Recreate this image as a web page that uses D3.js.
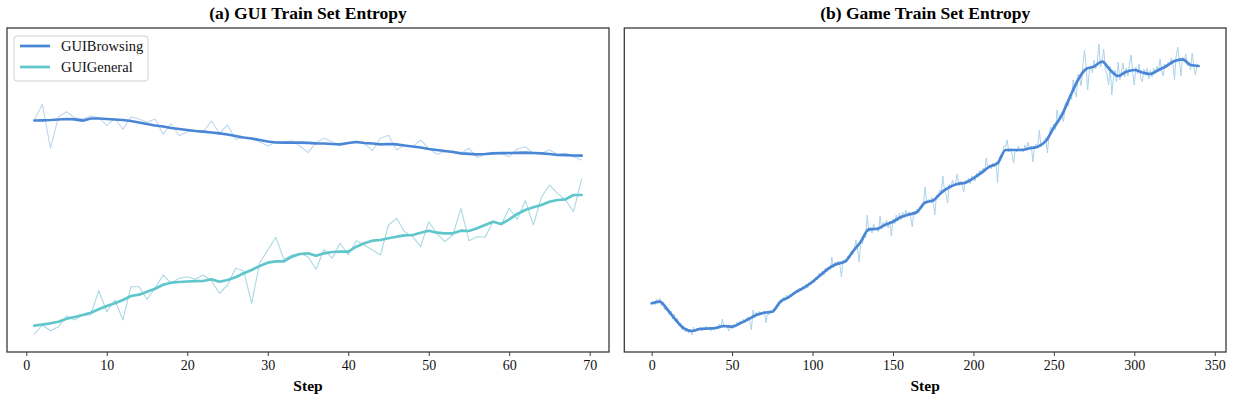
<!DOCTYPE html>
<html>
<head>
<meta charset="utf-8">
<script src="https://cdn.jsdelivr.net/npm/d3@7"></script>
<style>
  body { margin: 0; background: #fff; }
  svg { display: block; }
</style>
</head>
<body>
<svg id="chart" width="1233" height="397"></svg>
<script>
// ---- data (entropy; y axis carries no labels) ----
// (a) GUI train set, steps 1..69
const browsingRaw = [2.32,2.477,2.037,2.353,2.403,2.343,2.33,2.363,2.343,2.263,
  2.337,2.227,2.35,2.33,2.297,2.33,2.177,2.283,2.163,2.203,
  2.21,2.203,2.31,2.187,2.27,2.127,2.147,2.127,2.103,2.06,
  2.103,2.103,2.113,2.06,1.993,2.093,2.137,2.103,2.07,2.093,
  2.103,2.087,2.013,2.137,2.167,2.02,2.07,2.053,2.12,2.037,
  1.977,2.003,2.01,1.987,2.037,1.943,1.977,1.997,1.987,1.953,
  2.03,2.053,1.987,1.987,2.02,1.977,1.987,1.953,1.92];
const browsingSmooth = [2.315,2.317,2.32,2.325,2.33,2.327,2.313,2.335,2.335,2.33,
  2.325,2.32,2.31,2.295,2.28,2.265,2.255,2.24,2.23,2.22,
  2.21,2.203,2.195,2.187,2.175,2.16,2.145,2.135,2.12,2.105,
  2.095,2.093,2.093,2.093,2.091,2.087,2.085,2.08,2.077,2.09,
  2.10,2.09,2.085,2.077,2.08,2.077,2.065,2.055,2.045,2.03,
  2.02,2.01,2.00,1.987,1.982,1.977,1.98,1.987,1.988,1.99,
  1.992,1.993,1.99,1.987,1.98,1.97,1.968,1.965,1.963];
const generalRaw = [0.18,0.27,0.213,0.253,0.36,0.32,0.37,0.37,0.613,0.403,
  0.52,0.32,0.653,0.653,0.527,0.637,0.77,0.687,0.737,0.753,
  0.727,0.77,0.713,0.587,0.67,0.837,0.813,0.487,0.893,1.02,
  1.147,0.927,0.97,0.987,0.953,0.827,1.027,0.937,1.087,0.97,
  1.113,1.07,1.02,0.97,1.27,1.337,1.203,1.153,1.053,1.303,
  1.187,1.103,1.17,1.437,1.113,1.153,1.147,1.303,1.27,1.437,
  1.327,1.513,1.27,1.547,1.67,1.587,1.52,1.403,1.73];
const generalSmooth = [0.263,0.275,0.287,0.303,0.333,0.35,0.37,0.393,0.427,0.46,
  0.487,0.52,0.56,0.573,0.603,0.633,0.673,0.693,0.70,0.705,
  0.708,0.71,0.727,0.703,0.72,0.747,0.787,0.82,0.86,0.893,
  0.907,0.907,0.953,0.98,0.987,0.963,0.987,1.00,1.003,1.003,
  1.053,1.087,1.113,1.12,1.137,1.153,1.167,1.17,1.193,1.213,
  1.193,1.187,1.187,1.213,1.21,1.237,1.27,1.303,1.28,1.327,
  1.38,1.42,1.447,1.47,1.503,1.52,1.527,1.57,1.57];

// (b) Game train set, steps 0..340
const gameRaw = [0.48,0.50,0.47,0.53,0.49,0.54,0.46,0.50,0.42,0.45,
  0.44,0.37,0.41,0.33,0.38,0.30,0.34,0.26,0.29,0.22,
  0.26,0.20,0.24,0.19,0.23,0.17,0.25,0.20,0.24,0.21,
  0.25,0.21,0.24,0.22,0.26,0.22,0.24,0.21,0.23,0.22,
  0.26,0.24,0.28,0.25,0.33,0.24,0.27,0.25,0.21,0.26,
  0.23,0.28,0.25,0.30,0.27,0.31,0.28,0.33,0.29,0.34,
  0.35,0.31,0.22,0.42,0.34,0.40,0.36,0.41,0.37,0.40,
  0.41,0.29,0.40,0.37,0.42,0.39,0.44,0.42,0.47,0.46,
  0.52,0.49,0.55,0.51,0.57,0.53,0.58,0.55,0.60,0.57,
  0.62,0.59,0.64,0.61,0.66,0.63,0.68,0.64,0.70,0.67,
  0.72,0.69,0.75,0.72,0.79,0.75,0.81,0.77,0.84,0.80,
  0.85,0.82,0.95,0.84,0.90,0.86,0.91,0.87,0.75,0.92,
  0.92,0.89,0.96,0.93,1.00,0.97,1.04,1.12,1.02,0.90,
  1.12,1.08,1.18,1.14,1.37,1.20,1.25,1.19,1.28,1.22,
  1.25,1.20,1.36,1.23,1.30,1.26,1.32,1.24,1.31,1.16,
  1.33,1.28,1.37,1.31,1.39,1.32,1.40,1.34,1.42,1.35,
  1.40,1.35,1.25,1.41,1.38,1.43,1.40,1.46,1.44,1.50,
  1.65,1.48,1.53,1.50,1.55,1.49,1.37,1.57,1.55,1.62,
  1.60,1.76,1.61,1.58,1.49,1.68,1.64,1.72,1.66,1.70,
  1.78,1.66,1.71,1.67,1.60,1.72,1.69,1.74,1.68,1.76,
  1.75,1.71,1.79,1.75,1.82,1.77,1.84,1.80,1.94,1.83,
  1.86,1.83,1.89,1.85,1.90,1.69,1.93,1.97,1.95,2.06,
  2.05,2.12,2.00,2.04,1.98,1.89,2.03,2.00,2.06,2.01,
  2.04,2.00,2.07,2.02,2.10,2.03,2.06,1.90,2.05,2.08,
  2.07,2.22,2.05,2.10,2.08,2.14,1.99,2.17,2.25,2.20,
  2.28,2.22,2.42,2.30,2.38,2.36,2.30,2.48,2.50,2.46,
  2.58,2.52,2.72,2.60,2.55,2.78,2.74,2.66,2.86,3.02,
  2.88,2.62,2.80,2.86,2.79,2.92,2.83,2.90,3.08,2.85,
  2.92,3.03,2.82,2.78,2.67,2.86,2.57,2.74,2.82,2.70,
  2.90,2.72,2.80,2.89,2.75,2.84,2.76,2.88,2.97,2.80,
  2.67,2.85,2.78,2.88,2.74,2.70,2.83,2.77,2.84,2.73,
  2.82,2.75,2.84,2.79,2.86,2.80,2.93,2.81,2.76,2.88,
  2.84,2.90,2.87,2.94,2.88,2.72,2.96,3.05,2.92,2.76,
  2.95,2.90,2.98,2.86,2.90,2.82,2.99,2.85,2.77,2.88,2.85];
// smoothed curve, every 5 steps (0, 5, ..., 340)
const gameSmooth = [0.487,0.503,0.42,0.32,0.237,0.21,0.23,0.235,0.24,0.26,
  0.253,0.287,0.327,0.37,0.393,0.403,0.503,0.547,0.603,0.647,
  0.703,0.77,0.837,0.88,0.903,1.003,1.103,1.227,1.23,1.27,
  1.303,1.35,1.375,1.40,1.495,1.515,1.593,1.647,1.68,1.693,
  1.737,1.793,1.853,1.887,2.02,2.02,2.02,2.037,2.053,2.11,
  2.245,2.37,2.55,2.72,2.83,2.855,2.903,2.82,2.76,2.803,
  2.82,2.795,2.78,2.82,2.86,2.91,2.927,2.87,2.86];

const guiTicks = [0, 10, 20, 30, 40, 50, 60, 70];
const gameTicks = [0, 50, 100, 150, 200, 250, 300, 350];

// ---- style ----
const serif = '"Liberation Serif", "Times New Roman", Times, serif';
const blue = "#4a86d6";
const teal = "#5fc6cc";
const rawBlue = "#bfd7ed";
const rawTeal = "#aad9e2";
const rawGame = "#acd2ea";

const svg = d3.select("#chart");
const plotTop = 28, plotBottom = 352;
const y = d3.scaleLinear().domain([0, 3.24]).range([plotBottom, plotTop]);

function panel(cfg) {
  const g = svg.append("g");
  const x = d3.scaleLinear().domain(cfg.xDomain).range([cfg.left, cfg.right]);

  const clipId = "clip-" + cfg.id;
  svg.append("clipPath").attr("id", clipId)
    .append("rect")
    .attr("x", cfg.left).attr("y", plotTop)
    .attr("width", cfg.right - cfg.left).attr("height", plotBottom - plotTop);

  const plot = g.append("g").attr("clip-path", `url(#${clipId})`);

  cfg.series.forEach(s => {
    const line = d3.line()
      .x((d, i) => x(s.start + i * s.stride))
      .y(d => y(d));
    if (s.curve) line.curve(s.curve);
    plot.append("path")
      .datum(s.values)
      .attr("fill", "none")
      .attr("stroke", s.color)
      .attr("stroke-width", s.width)
      .attr("stroke-linejoin", "round")
      .attr("stroke-linecap", "round")
      .attr("d", line);
  });

  // frame
  g.append("rect")
    .attr("x", cfg.left).attr("y", plotTop)
    .attr("width", cfg.right - cfg.left).attr("height", plotBottom - plotTop)
    .attr("fill", "none").attr("stroke", "#3a3a3a").attr("stroke-width", 1.3);

  // x axis
  const ax = g.append("g")
    .attr("transform", `translate(0,${plotBottom})`)
    .call(d3.axisBottom(x).tickValues(cfg.ticks).tickSize(4).tickPadding(4).tickFormat(d3.format("d")));
  ax.select(".domain").remove();
  ax.selectAll(".tick line").attr("stroke", "#3a3a3a").attr("stroke-width", 1);
  ax.selectAll(".tick text")
    .attr("font-family", serif).attr("font-size", 14).attr("fill", "#111");

  g.append("text")
    .attr("x", (cfg.left + cfg.right) / 2).attr("y", 391)
    .attr("text-anchor", "middle")
    .attr("font-family", serif).attr("font-size", 15.5).attr("font-weight", "bold")
    .text("Step");

  g.append("text")
    .attr("x", (cfg.left + cfg.right) / 2).attr("y", 19)
    .attr("text-anchor", "middle")
    .attr("font-family", serif).attr("font-size", 17.5).attr("font-weight", "bold")
    .text(cfg.title);

  return g;
}

const left = panel({
  id: "gui", left: 7, right: 609, xDomain: [-2.4, 72.4], ticks: guiTicks,
  title: "(a) GUI Train Set Entropy",
  series: [
    { values: browsingRaw, start: 1, stride: 1, color: rawBlue, width: 1.1 },
    { values: generalRaw, start: 1, stride: 1, color: rawTeal, width: 1.1 },
    { values: browsingSmooth, start: 1, stride: 1, color: blue, width: 2.7 },
    { values: generalSmooth, start: 1, stride: 1, color: teal, width: 2.7 }
  ]
});

panel({
  id: "game", left: 624.3, right: 1226, xDomain: [-17, 357], ticks: gameTicks,
  title: "(b) Game Train Set Entropy",
  series: [
    { values: gameRaw, start: 0, stride: 1, color: rawGame, width: 1 },
    { values: gameSmooth, start: 0, stride: 5, color: blue, width: 2.7, curve: d3.curveMonotoneX }
  ]
});

// legend for (a)
const legendItems = [
  { label: "GUIBrowsing", color: blue },
  { label: "GUIGeneral", color: teal }
];
const lg = left.append("g").attr("transform", "translate(14,36)");
lg.append("rect")
  .attr("width", 134).attr("height", 45).attr("rx", 3)
  .attr("fill", "#fff").attr("fill-opacity", 0.85)
  .attr("stroke", "#d0d0d0").attr("stroke-width", 1);
legendItems.forEach((it, i) => {
  const row = lg.append("g").attr("transform", `translate(0,${10 + i * 21})`);
  row.append("line")
    .attr("x1", 6).attr("x2", 36).attr("y1", 0).attr("y2", 0)
    .attr("stroke", it.color).attr("stroke-width", 2.7);
  row.append("text")
    .attr("x", 47).attr("y", 0).attr("dy", "0.35em")
    .attr("font-family", serif).attr("font-size", 14.5).attr("fill", "#111")
    .text(it.label);
});
</script>
</body>
</html>
